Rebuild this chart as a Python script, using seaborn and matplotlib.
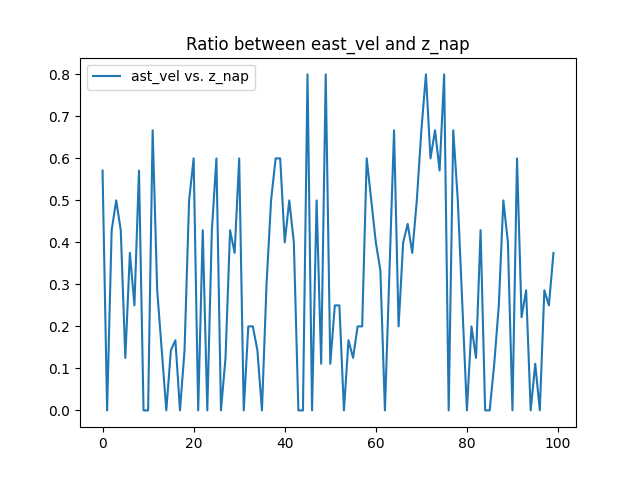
import matplotlib
matplotlib.use("Agg")
import matplotlib.pyplot as plt
import seaborn as sns
import numpy as np
import pandas as pd

ratio = [0.571, 0.0, 0.429, 0.5, 0.429, 0.125, 0.375, 0.25, 0.571, 0.0,
         0.0, 0.667, 0.286, 0.143, 0.0, 0.143, 0.167, 0.0, 0.143, 0.5,
         0.6, 0.0, 0.429, 0.0, 0.429, 0.6, 0.0, 0.125, 0.429, 0.375,
         0.6, 0.0, 0.2, 0.2, 0.143, 0.0, 0.3, 0.5, 0.6, 0.6,
         0.4, 0.5, 0.4, 0.0, 0.0, 0.8, 0.0, 0.5, 0.111, 0.8,
         0.111, 0.25, 0.25, 0.0, 0.167, 0.125, 0.2, 0.2, 0.6, 0.5,
         0.4, 0.333, 0.0, 0.333, 0.667, 0.2, 0.4, 0.444, 0.375, 0.5,
         0.667, 0.8, 0.6, 0.667, 0.571, 0.8, 0.0, 0.667, 0.5, 0.25,
         0.0, 0.2, 0.125, 0.429, 0.0, 0.0, 0.111, 0.25, 0.5, 0.4,
         0.0, 0.6, 0.222, 0.286, 0.0, 0.111, 0.0, 0.286, 0.25, 0.375]
index = list(range(len(ratio)))

df = pd.DataFrame({"index": index, "ratio": ratio})

fig, ax = plt.subplots(figsize=(6.4, 4.8), dpi=100)
sns.lineplot(data=df, x="index", y="ratio", ax=ax, label="ast_vel vs. z_nap", color="#1f77b4")
ax.set_title("Ratio between east_vel and z_nap")
ax.set_xlabel("")
ax.set_ylabel("")
ax.legend(loc="upper left")
fig.savefig("out.png", dpi=100)
